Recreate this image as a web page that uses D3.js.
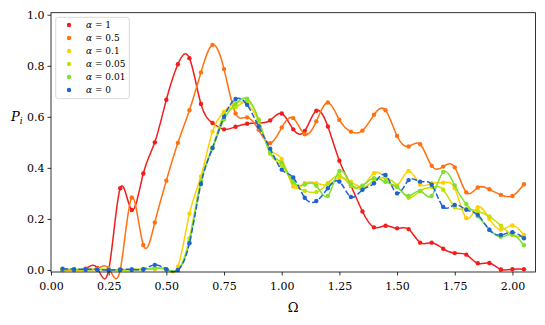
<!DOCTYPE html>
<html>
<head>
<meta charset="utf-8">
<script src="https://cdn.jsdelivr.net/npm/d3@7"></script>
<style>
  body { margin: 0; background: #fff; }
  svg { display: block; font-family: 'DejaVu Serif', serif; }
</style>
</head>
<body>
<div id="chart"></div>
<script>
const omega = [0.05, 0.10, 0.15, 0.20, 0.25, 0.30, 0.35, 0.40, 0.45, 0.50,
    0.55, 0.60, 0.65, 0.70, 0.75, 0.80, 0.85, 0.90, 0.95, 1.00,
    1.05, 1.10, 1.15, 1.20, 1.25, 1.30, 1.35, 1.40, 1.45, 1.50,
    1.55, 1.60, 1.65, 1.70, 1.75, 1.80, 1.85, 1.90, 1.95, 2.00, 2.05];

const alphaLabels = ['1', '0.5', '0.1', '0.05', '0.01', '0'];
const colors = ['#f21d1d', '#ff7212', '#ffd000', '#c6e000', '#80e032', '#1f63d0'];

const pAlpha1 = [0.0, 0.0, 0.005, 0.008, 0.0, 0.32, 0.235, 0.378, 0.50, 0.667,
    0.806, 0.83, 0.65, 0.576, 0.551, 0.561, 0.573, 0.576, 0.586, 0.613,
    0.551, 0.545, 0.624, 0.562, 0.428, 0.33, 0.229, 0.167, 0.173, 0.163,
    0.16, 0.107, 0.107, 0.083, 0.066, 0.06, 0.026, 0.027, 0.002, 0.003, 0.003];

const pAlpha05 = [0.0, 0.0, 0.002, 0.005, 0.006, 0.0, 0.284, 0.098, 0.186, 0.35,
    0.498, 0.626, 0.774, 0.882, 0.787, 0.613, 0.598, 0.549, 0.497, 0.558,
    0.595, 0.532, 0.582, 0.656, 0.588, 0.542, 0.546, 0.608, 0.626, 0.525,
    0.484, 0.493, 0.408, 0.405, 0.402, 0.304, 0.323, 0.316, 0.294, 0.29, 0.336];

const pAlpha01 = [0.002, 0.0, 0.0, 0.003, 0.0, 0.0, 0.0, 0.002, 0.004, 0.002,
    0.013, 0.22, 0.366, 0.542, 0.62, 0.655, 0.65, 0.58, 0.47, 0.435,
    0.327, 0.34, 0.34, 0.335, 0.36, 0.346, 0.33, 0.379, 0.36, 0.33,
    0.388, 0.335, 0.34, 0.342, 0.32, 0.203, 0.246, 0.2, 0.158, 0.174, 0.137];

const pAlpha005 = [0.003, 0.002, 0.002, 0.003, 0.001, 0.0, 0.002, 0.003, 0.006, 0.003,
    0.0, 0.124, 0.35, 0.48, 0.61, 0.638, 0.66, 0.59, 0.455, 0.41,
    0.34, 0.31, 0.305, 0.34, 0.37, 0.33, 0.32, 0.35, 0.36, 0.33,
    0.283, 0.31, 0.325, 0.314, 0.246, 0.24, 0.23, 0.21, 0.173, 0.137, 0.13];

const pAlpha001 = [0.002, 0.002, 0.001, 0.002, 0.0, 0.001, 0.002, 0.002, 0.008, 0.002,
    0.0, 0.11, 0.345, 0.477, 0.59, 0.65, 0.671, 0.588, 0.46, 0.42,
    0.345, 0.335, 0.33, 0.29, 0.388, 0.336, 0.33, 0.36, 0.345, 0.325,
    0.29, 0.31, 0.29, 0.384, 0.331, 0.258, 0.21, 0.16, 0.13, 0.14, 0.097];

const pAlpha0 = [0.005, 0.003, 0.003, 0.002, 0.0, 0.002, 0.002, 0.003, 0.02, 0.003,
    0.0, 0.105, 0.337, 0.478, 0.60, 0.67, 0.647, 0.562, 0.475, 0.393,
    0.362, 0.283, 0.27, 0.32, 0.346, 0.286, 0.314, 0.34, 0.372, 0.30,
    0.352, 0.346, 0.334, 0.247, 0.255, 0.236, 0.216, 0.157, 0.137, 0.148, 0.124];

const xTicks = [0, 0.25, 0.5, 0.75, 1.0, 1.25, 1.5, 1.75, 2.0];
const yTicks = [0, 0.2, 0.4, 0.6, 0.8, 1.0];

const series = [pAlpha1, pAlpha05, pAlpha01, pAlpha005, pAlpha001, pAlpha0];

const width = 545;
const height = 325;
const plot = { left: 51, right: 535.5, top: 12.7, bottom: 272 };

const x = d3.scaleLinear().domain([0, 2.1]).range([plot.left, plot.right]);
const y = d3.scaleLinear().domain([-0.008, 1.008]).range([plot.bottom, plot.top]);

const svg = d3.select('#chart').append('svg')
    .attr('width', width)
    .attr('height', height);

const line = d3.line()
    .x((d, i) => x(omega[i]))
    .y(d => y(d))
    .curve(d3.curveNatural);

const lines = svg.append('g').attr('class', 'series');

series.forEach((values, k) => {
    const g = lines.append('g').attr('fill', colors[k]).attr('stroke', colors[k]);

    g.append('path')
        .attr('d', line(values))
        .attr('fill', 'none')
        .attr('stroke-width', 1.5)
        .attr('stroke-dasharray', k === 5 ? '5.5,2.4' : null);

    g.selectAll('circle')
        .data(values)
        .enter()
        .append('circle')
        .attr('cx', (d, i) => x(omega[i]))
        .attr('cy', d => y(d))
        .attr('r', 2.2)
        .attr('stroke', 'none');
});

// axes
const xAxis = svg.append('g')
    .attr('transform', `translate(0,${plot.bottom})`)
    .call(d3.axisBottom(x).tickValues(xTicks).tickFormat(d3.format('.2f')).tickSize(3.5).tickSizeOuter(0));

const yAxis = svg.append('g')
    .attr('transform', `translate(${plot.left},0)`)
    .call(d3.axisLeft(y).tickValues(yTicks).tickFormat(d3.format('.1f')).tickSize(3.5).tickSizeOuter(0));

[xAxis, yAxis].forEach(a => {
    a.select('.domain').remove();
    a.selectAll('line').attr('stroke', '#000').attr('stroke-width', 0.8);
    a.selectAll('text').attr('fill', '#000').style('font-size', '11px').style('font-family', "'DejaVu Serif', serif");
});
xAxis.selectAll('text').attr('dy', '1.05em');
yAxis.selectAll('text').attr('x', -6.5).attr('dy', '0.36em');

svg.append('rect')
    .attr('x', plot.left)
    .attr('y', plot.top)
    .attr('width', plot.right - plot.left)
    .attr('height', plot.bottom - plot.top)
    .attr('fill', 'none')
    .attr('stroke', '#000')
    .attr('stroke-width', 0.8);

svg.append('text')
    .attr('x', (plot.left + plot.right) / 2)
    .attr('y', 312)
    .attr('text-anchor', 'middle')
    .style('font-size', '13px')
    .text('Ω');

const ylab = svg.append('text')
    .attr('x', 11)
    .attr('y', 121)
    .style('font-size', '13px');
ylab.append('tspan').style('font-style', 'italic').text('P');
ylab.append('tspan').attr('dy', 3).style('font-size', '9px').style('font-style', 'italic').text('i');

// legend
const legend = svg.append('g').attr('class', 'legend');

legend.append('rect')
    .attr('x', 55.7)
    .attr('y', 17.3)
    .attr('width', 73.6)
    .attr('height', 81.4)
    .attr('rx', 2.5)
    .attr('fill', '#fff')
    .attr('fill-opacity', 0.8)
    .attr('stroke', '#d0d0d0')
    .attr('stroke-width', 0.8);

const item = legend.selectAll('g.item')
    .data(alphaLabels)
    .enter()
    .append('g')
    .attr('class', 'item')
    .attr('transform', (d, i) => `translate(0,${25 + i * 13})`);

item.append('circle')
    .attr('cx', 69)
    .attr('cy', 0)
    .attr('r', 2.2)
    .attr('fill', (d, i) => colors[i]);

const label = item.append('text')
    .attr('x', 86)
    .attr('dy', '0.35em')
    .style('font-size', '9px');
label.append('tspan').style('font-style', 'italic').text('α');
label.append('tspan').text(d => ` = ${d}`);
</script>
</body>
</html>
